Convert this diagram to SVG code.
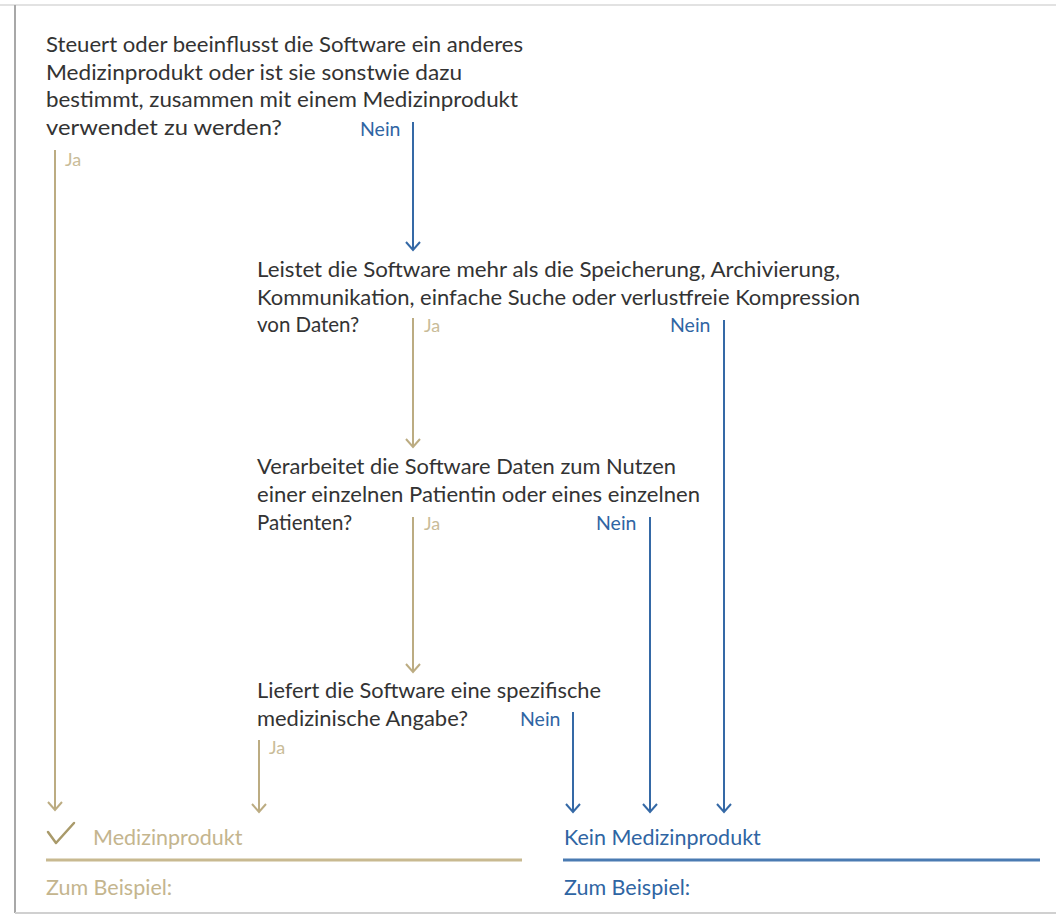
<svg xmlns="http://www.w3.org/2000/svg" width="1056" height="916" viewBox="0 0 1056 916">
  <style>
    .q { font-family: Lato, "Open Sans", "Liberation Sans", sans-serif; font-size: 20.5px; fill: #333333; }
    .ja { font-family: Lato, "Open Sans", "Liberation Sans", sans-serif; font-size: 18px; fill: #c9bc98; }
    .nein { font-family: Lato, "Open Sans", "Liberation Sans", sans-serif; font-size: 19.5px; fill: #2f65a3; }
    .tan { stroke: #bcac82; stroke-width: 2; fill: none; }
    .blue { stroke: #3569a6; stroke-width: 2; fill: none; }
    .resT { font-family: Lato, "Open Sans", "Liberation Sans", sans-serif; font-size: 21.5px; fill: #c4b58e; }
    .resB { font-family: Lato, "Open Sans", "Liberation Sans", sans-serif; font-size: 21.5px; fill: #2f65a3; }
  </style>
  <defs>
    <marker id="arrTan" markerUnits="userSpaceOnUse" markerWidth="20" markerHeight="20" refX="10" refY="12" orient="auto-start-reverse" viewBox="0 0 20 20">
      <path d="M3,4 L10,12 L17,4" transform="rotate(-90 10 12)" fill="none" stroke="#bcac82" stroke-width="2"/>
    </marker>
    <marker id="arrBlue" markerUnits="userSpaceOnUse" markerWidth="20" markerHeight="20" refX="10" refY="12" orient="auto-start-reverse" viewBox="0 0 20 20">
      <path d="M3,4 L10,12 L17,4" transform="rotate(-90 10 12)" fill="none" stroke="#3569a6" stroke-width="2"/>
    </marker>
  </defs>

  <rect x="0" y="0" width="1056" height="916" fill="#ffffff"/>
  <!-- page frame -->
  <line x1="0" y1="5" x2="1056" y2="5" stroke="#e2e2e2" stroke-width="2"/>
  <line x1="15" y1="5" x2="15" y2="913" stroke="#a8a8a8" stroke-width="2"/>
  <line x1="15" y1="913" x2="1056" y2="913" stroke="#d0d0d0" stroke-width="2"/>

  <g id="connectors">
    <line class="tan" x1="55" y1="150" x2="55" y2="810" marker-end="url(#arrTan)"/>
    <line class="blue" x1="413" y1="122" x2="413" y2="250" marker-end="url(#arrBlue)"/>
    <line class="tan" x1="413" y1="318" x2="413" y2="447" marker-end="url(#arrTan)"/>
    <line class="blue" x1="724" y1="320" x2="724" y2="812" marker-end="url(#arrBlue)"/>
    <line class="tan" x1="413" y1="517" x2="413" y2="672" marker-end="url(#arrTan)"/>
    <line class="blue" x1="650" y1="517" x2="650" y2="812" marker-end="url(#arrBlue)"/>
    <line class="tan" x1="259" y1="740" x2="259" y2="812" marker-end="url(#arrTan)"/>
    <line class="blue" x1="573" y1="712" x2="573" y2="812" marker-end="url(#arrBlue)"/>
  </g>

  <g id="q1">
    <text class="q" x="46" y="52" textLength="477" lengthAdjust="spacingAndGlyphs">Steuert oder beeinflusst die Software ein anderes</text>
    <text class="q" x="46" y="80" textLength="416" lengthAdjust="spacingAndGlyphs">Medizinprodukt oder ist sie sonstwie dazu</text>
    <text class="q" x="46" y="107" textLength="472" lengthAdjust="spacingAndGlyphs">bestimmt, zusammen mit einem Medizinprodukt</text>
    <text class="q" x="46" y="135" textLength="236" lengthAdjust="spacingAndGlyphs">verwendet zu werden?</text>
    <text class="nein" x="360" y="136">Nein</text>
    <text class="ja" x="65" y="166">Ja</text>
  </g>

  <g id="q2">
    <text class="q" x="257" y="277" textLength="583" lengthAdjust="spacingAndGlyphs">Leistet die Software mehr als die Speicherung, Archivierung,</text>
    <text class="q" x="257" y="305" textLength="603" lengthAdjust="spacingAndGlyphs">Kommunikation, einfache Suche oder verlustfreie Kompression</text>
    <text class="q" x="257" y="332">von Daten?</text>
    <text class="ja" x="424" y="332">Ja</text>
    <text class="nein" x="670" y="332">Nein</text>
  </g>

  <g id="q3">
    <text class="q" x="257" y="474" textLength="419" lengthAdjust="spacingAndGlyphs">Verarbeitet die Software Daten zum Nutzen</text>
    <text class="q" x="257" y="502" textLength="443" lengthAdjust="spacingAndGlyphs">einer einzelnen Patientin oder eines einzelnen</text>
    <text class="q" x="257" y="530">Patienten?</text>
    <text class="ja" x="424" y="530">Ja</text>
    <text class="nein" x="596" y="530">Nein</text>
  </g>

  <g id="q4">
    <text class="q" x="257" y="698" textLength="344" lengthAdjust="spacingAndGlyphs">Liefert die Software eine spezifische</text>
    <text class="q" x="257" y="726" textLength="211" lengthAdjust="spacingAndGlyphs">medizinische Angabe?</text>
    <text class="nein" x="520" y="726">Nein</text>
    <text class="ja" x="269" y="754">Ja</text>
  </g>

  <g id="result-medizinprodukt">
    <path d="M48,832 L56,843 L74,823" fill="none" stroke="#a99a6a" stroke-width="2.5" stroke-linecap="round" stroke-linejoin="round"/>
    <text class="resT" x="93" y="845">Medizinprodukt</text>
    <line x1="46" y1="860" x2="522" y2="860" stroke="#c8b990" stroke-width="3"/>
    <text class="resT" x="46" y="895">Zum Beispiel:</text>
  </g>

  <g id="result-kein-medizinprodukt">
    <text class="resB" x="564" y="845">Kein Medizinprodukt</text>
    <line x1="563" y1="860" x2="1040" y2="860" stroke="#4a7bb2" stroke-width="3"/>
    <text class="resB" x="564" y="895">Zum Beispiel:</text>
  </g>
</svg>
